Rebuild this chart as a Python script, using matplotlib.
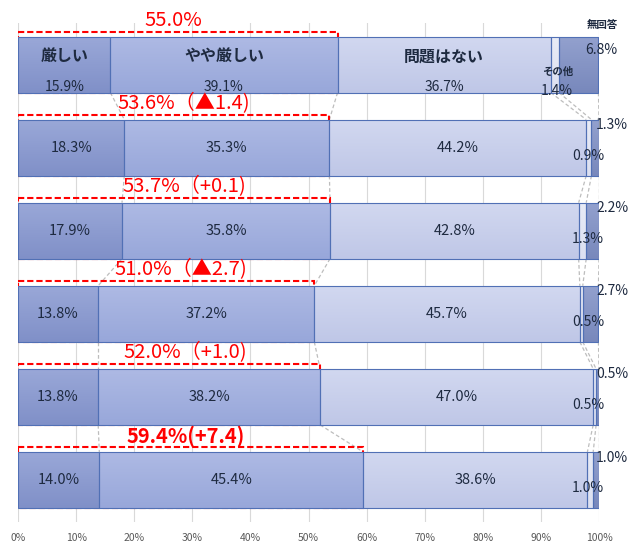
import matplotlib
matplotlib.use('Agg')
import matplotlib.pyplot as plt
import numpy as np
from matplotlib.colors import to_rgb
from matplotlib.patches import Rectangle

plt.rcParams['font.family'] = ['Noto Sans CJK JP', 'DejaVu Sans']

# ---- data ----
categories = ['厳しい', 'やや厳しい', '問題はない', 'その他', '無回答']
severe = [15.9, 18.3, 17.9, 13.8, 13.8, 14.0]
somewhat = [39.1, 35.3, 35.8, 37.2, 38.2, 45.4]
no_problem = [36.7, 44.2, 42.8, 45.7, 47.0, 38.6]
other = [1.4, 0.9, 1.3, 0.5, 0.5, 1.0]
no_answer = [6.8, 1.3, 2.2, 2.7, 0.5, 1.0]
red_labels = ['55.0%', '53.6%（▲1.4)', '53.7%（+0.1)', '51.0%（▲2.7)',
              '52.0%（+1.0)', '59.4%(+7.4)']
xticks = list(range(0, 101, 10))

# ---- style ----
grad_top = ['#9AA8D8', '#AEBAE4', '#D2D8F0', '#E8EBF6', '#93A1CE']
grad_bot = ['#8090C8', '#98A7DA', '#BFC7E7', '#DCE0F1', '#7888BC']
edge = '#5170B5'
txt = '#1E2A40'
red = '#FF0000'
red_x = [26.7, 28.6, 28.7, 28.1, 28.7, 28.9]
h = 0.675

series = [severe, somewhat, no_problem, other, no_answer]
n = len(severe)
ypos = np.arange(n)

fig = plt.figure(figsize=(6.3, 5.43), dpi=100)
ax = fig.add_axes([18/630, 1-521.5/543, 581/630, 498.5/543])

lefts = np.zeros(n)
cums = []
for k, vals in enumerate(series):
    vals = np.array(vals)
    bars = ax.barh(ypos, vals, left=lefts, height=h, facecolor='none',
                   edgecolor=edge, linewidth=0.8, zorder=4)
    c1 = np.array(to_rgb(grad_top[k])); c2 = np.array(to_rgb(grad_bot[k]))
    t = np.linspace(0, 1, 64)[:, None]
    img = (c1 * (1 - t) + c2 * t)[:, None, :]
    for b in bars:
        x0, y0, w, hh = b.get_x(), b.get_y(), b.get_width(), b.get_height()
        im = ax.imshow(img, extent=[x0, x0 + w, y0 + hh, y0], aspect='auto',
                       zorder=3, interpolation='bilinear')
        clip = Rectangle((x0, y0), w, hh, transform=ax.transData)
        im.set_clip_path(clip)
    lefts = lefts + vals
    cums.append(lefts.copy())

ax.set_xlim(0, 100)
ax.set_ylim(n - 0.5, -0.5)

# series connector lines
for k in range(5):
    for i in range(n - 1):
        ax.plot([cums[k][i], cums[k][i + 1]], [i + h/2, i + 1 - h/2],
                color='#BDBDBD', lw=0.9, ls=(0, (3, 2)), zorder=2)

# red dashed brackets + labels
for i in range(n):
    top2 = severe[i] + somewhat[i]
    r = Rectangle((0, i - h/2 - 0.06), top2, h + 0.06, fill=False,
                  edgecolor=red, lw=1.5, ls=(0, (3, 1.4)), zorder=2.5)
    ax.add_patch(r)
    ax.text(red_x[i], i - h/2 - 0.19, red_labels[i], color=red,
            fontsize=14.5, ha='center', va='center',
            fontweight='bold' if i == n - 1 else 'normal', zorder=6)

# value labels
for i in range(n):
    starts = [0, severe[i], severe[i] + somewhat[i]]
    for k in range(3):
        v = series[k][i]
        xc = starts[k] + v / 2
        if i == 0:
            ax.text(xc, i - 0.10, categories[k], ha='center', va='center',
                    fontsize=11.5, fontweight='bold', color=txt, zorder=6)
            ax.text(xc, i + 0.27, f'{v:.1f}%', ha='center', va='center',
                    fontsize=10, color=txt, zorder=6)
        else:
            ax.text(xc, i, f'{v:.1f}%', ha='center', va='center',
                    fontsize=10.5, color=txt, zorder=6)
    if i == 0:
        ax.text(92.8, i + 0.09, categories[3], ha='center', va='center',
                fontsize=7.5, fontweight='bold', color=txt, zorder=6)
        ax.text(92.8, i + 0.32, f'{other[i]:.1f}%', ha='center', va='center',
                fontsize=10, color=txt, zorder=6)
        ax.text(100.5, i - 0.48, categories[4], ha='center', va='center',
                fontsize=7.5, fontweight='bold', color=txt, zorder=6,
                clip_on=False)
        ax.text(100.4, i - 0.17, f'{no_answer[i]:.1f}%', ha='center',
                va='center', fontsize=10, color=txt, zorder=6, clip_on=False)
    else:
        ax.text(100.9, i + 0.10, f'{other[i]:.1f}%', ha='right', va='center',
                fontsize=10, color=txt, zorder=6, clip_on=False)
        ax.text(99.5, i - 0.27, f'{no_answer[i]:.1f}%', ha='left',
                va='center', fontsize=10, color=txt, zorder=6, clip_on=False)

ax.set_xticks(xticks)
ax.set_xticklabels([f'{t}%' for t in xticks], fontsize=7.5, color='#595959')
ax.tick_params(axis='x', length=0, pad=8)
ax.set_yticks([])
ax.xaxis.grid(True, color='#D9D9D9', lw=0.8, zorder=0)
ax.set_axisbelow(True)
for s in ax.spines.values():
    s.set_visible(False)

fig.savefig('out.png', dpi=100)
